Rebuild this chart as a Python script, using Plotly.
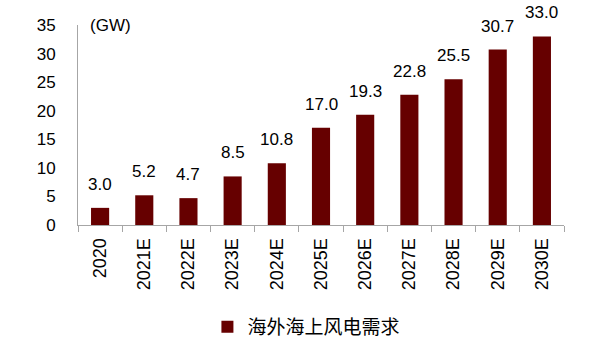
import plotly.graph_objects as go

categories = ["2020", "2021E", "2022E", "2023E", "2024E", "2025E", "2026E", "2027E", "2028E", "2029E", "2030E"]
values = [3.0, 5.2, 4.7, 8.5, 10.8, 17.0, 19.3, 22.8, 25.5, 30.7, 33.0]
series_name = "海外海上风电需求"
y_ticks = [0, 5, 10, 15, 20, 25, 30, 35]
unit_label = "(GW)"

bar_color = "#660000"
font_main = "Liberation Sans, Arial, sans-serif"

fig = go.Figure()
fig.add_trace(go.Bar(
    x=categories, y=values, name=series_name,
    marker=dict(color=bar_color, line=dict(width=0)),
    showlegend=True,
))

for i, v in enumerate(values):
    fig.add_annotation(x=i, y=v, text=f"{v:.1f}", showarrow=False,
                       yanchor="bottom", yshift=12,
                       font=dict(family=font_main, size=17, color="#000"))

fig.add_annotation(xref="paper", yref="paper", x=0.02, y=1.0, xanchor="left", yanchor="middle",
                   text=unit_label, showarrow=False,
                   font=dict(family=font_main, size=17, color="#000"))

fig.update_layout(
    width=599, height=341,
    margin=dict(l=78, r=35, t=25, b=116, autoexpand=False),
    paper_bgcolor="white", plot_bgcolor="white",
    bargap=0.59,
    font=dict(family=font_main, size=17, color="#000"),
    legend=dict(orientation="h", x=0.47, xanchor="center", y=-0.51, yanchor="middle",
                font=dict(family="Noto Sans CJK SC", size=19, color="#000"),
                itemwidth=30),
)
fig.update_xaxes(
    type="category", categoryorder="array", categoryarray=categories,
    tickangle=-90, showline=True, linecolor="#a6a6a6", linewidth=1,
    ticks="outside", tickson="boundaries", ticklen=6, tickcolor="#a6a6a6",
    ticklabelstandoff=5, automargin=False,
    tickfont=dict(family=font_main, size=18), showgrid=False,
)
fig.update_yaxes(
    range=[0, 35], tickvals=y_ticks, showline=True, linecolor="#a6a6a6", linewidth=1,
    showgrid=False, zeroline=False, ticks="", ticklabelstandoff=18, automargin=False,
    tickfont=dict(family=font_main, size=17),
)

fig.write_html("out.html")
